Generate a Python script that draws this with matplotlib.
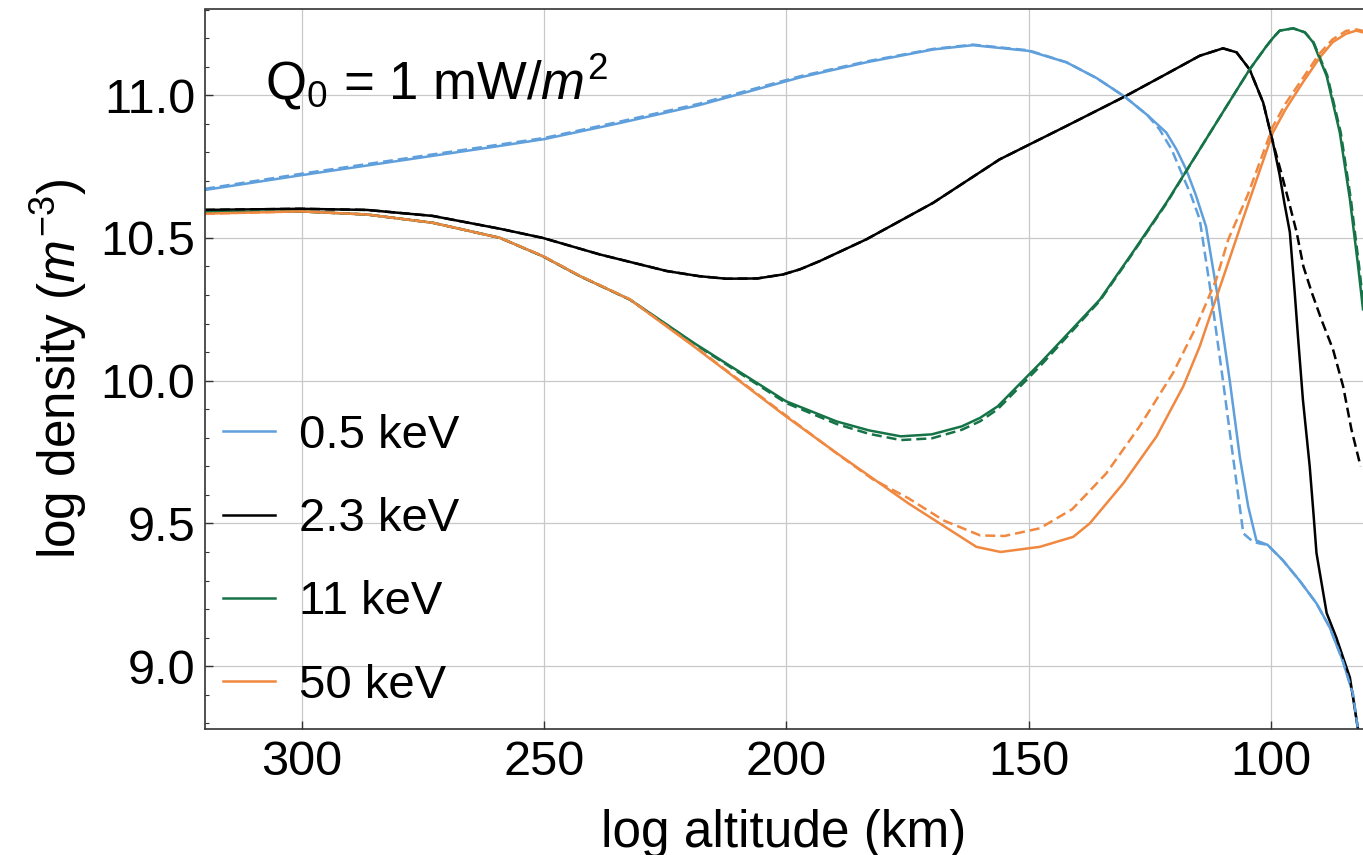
import matplotlib
matplotlib.use("Agg")
import matplotlib.pyplot as plt
from matplotlib.ticker import MultipleLocator

plt.rcParams['font.family'] = ['Liberation Sans', 'DejaVu Sans']
plt.rcParams['mathtext.fontset'] = 'custom'
plt.rcParams['mathtext.rm'] = 'Liberation Sans'
plt.rcParams['mathtext.it'] = 'Liberation Sans:italic'
plt.rcParams['mathtext.bf'] = 'Liberation Sans:bold'

# altitude (km) / log density values
blue_alt = [320, 300, 280, 260, 250, 235, 218, 197.2, 183.5, 169.7, 161.5, 150, 142.2, 136, 130.2,
            125.5, 121.6, 119.5, 117.5, 115.5, 113.4, 111.0, 108.5, 106.4, 104.7, 103.0, 100.7,
            97.6, 94.1, 90.6, 87.9, 85.2, 83.1, 82.1, 81]
blue_den = [10.668, 10.72, 10.77, 10.82, 10.846, 10.90, 10.965, 11.062, 11.115, 11.16, 11.175,
            11.155, 11.115, 11.06, 10.995, 10.93, 10.869, 10.81, 10.74, 10.65, 10.54, 10.296, 10.0,
            9.73, 9.56, 9.44, 9.425, 9.372, 9.30, 9.22, 9.137, 9.02, 8.905, 8.786, 8.72]
blue_alt_d = [320, 300, 280, 260, 250, 235, 218, 197.2, 183.5, 169.7, 161.5, 150, 142.2, 136,
              130.2, 125.5, 123, 120.5, 118.2, 116.5, 114.7, 112.3, 109.9, 107.8, 105.7, 103.7,
              102.4, 100.7, 97.6, 94.1, 90.6, 87.9, 85.2, 83.1, 82.1, 81]
blue_den_d = [10.672, 10.725, 10.775, 10.825, 10.85, 10.905, 10.97, 11.066, 11.118, 11.162,
              11.177, 11.157, 11.115, 11.06, 10.995, 10.93, 10.88, 10.81, 10.717, 10.65, 10.565,
              10.296, 10.0, 9.73, 9.465, 9.436, 9.43, 9.425, 9.372, 9.30, 9.22, 9.137, 9.02,
              8.905, 8.786, 8.72]

black_alt = [320, 300.4, 286.6, 273, 259.1, 250.3, 238.5, 224.7, 218, 212.4, 206, 200.7, 197.2,
             193.1, 183.5, 169.7, 156, 142.2, 130.2, 121.6, 114.7, 109.9, 107.1, 104.4, 101.6,
             99.6, 98.2, 97.2, 96.1, 95.1, 94.4, 93.4, 92.0, 91.2, 90.6, 88.5, 86.5, 83.7, 82.1, 81]
black_den = [10.598, 10.602, 10.598, 10.577, 10.532, 10.50, 10.442, 10.384, 10.366, 10.357,
             10.358, 10.372, 10.39, 10.419, 10.495, 10.623, 10.775, 10.892, 10.995, 11.074, 11.138,
             11.164, 11.15, 11.09, 10.974, 10.835, 10.72, 10.62, 10.52, 10.31, 10.15, 9.933, 9.70,
             9.53, 9.396, 9.186, 9.10, 8.96, 8.786, 8.70]
black_alt_d = [320, 300.4, 286.6, 273, 259.1, 250.3, 238.5, 224.7, 218, 212.4, 206, 200.7, 197.2,
               193.1, 183.5, 169.7, 156, 142.2, 130.2, 121.6, 114.7, 109.9, 107.1, 104.4, 101.6,
               99.6, 97.9, 96.2, 94.7, 93.3, 91.6, 89.5, 87.2, 85.1, 83.4, 81.5]
black_den_d = [10.598, 10.602, 10.598, 10.577, 10.532, 10.50, 10.442, 10.384, 10.366, 10.357,
               10.358, 10.372, 10.39, 10.419, 10.495, 10.623, 10.775, 10.892, 10.995, 11.074,
               11.138, 11.164, 11.15, 11.09, 10.974, 10.835, 10.73, 10.62, 10.52, 10.40, 10.31,
               10.21, 10.11, 9.98, 9.83, 9.70]

green_alt = [320, 300.4, 286.6, 273, 259.1, 250.3, 242.6, 232.3, 219.1, 200.1, 189.6, 183, 176.4,
             170, 163.8, 160, 156.4, 147.7, 135.3, 128.5, 121.6, 114.7, 107.8, 104.4, 101, 99.6,
             98.2, 95.4, 93, 91.3, 88.5, 85.8, 83.7, 82.0, 81]
green_den = [10.59, 10.593, 10.582, 10.553, 10.50, 10.436, 10.366, 10.284, 10.132, 9.928, 9.857,
             9.826, 9.805, 9.812, 9.84, 9.87, 9.91, 10.06, 10.284, 10.45, 10.623, 10.81, 10.998,
             11.09, 11.17, 11.20, 11.226, 11.234, 11.22, 11.185, 11.067, 10.87, 10.635, 10.40,
             10.25]
green_alt_d = [320, 300.4, 286.6, 273, 259.1, 250.3, 242.6, 232.3, 219.1, 200.1, 189.6, 183,
               176.4, 170, 163.8, 160, 156.4, 147.7, 135.3, 128.5, 121.6, 114.7, 107.8, 104.4,
               101, 99.6, 98.2, 95.4, 93, 91.2, 88.4, 85.6, 83.5, 81.8, 80.8]
green_den_d = [10.59, 10.593, 10.582, 10.553, 10.50, 10.436, 10.366, 10.284, 10.13, 9.922, 9.848,
               9.814, 9.792, 9.798, 9.828, 9.858, 9.90, 10.05, 10.28, 10.447, 10.62, 10.81,
               10.998, 11.09, 11.17, 11.20, 11.226, 11.234, 11.22, 11.185, 11.07, 10.87, 10.635,
               10.40, 10.25]

orange_alt = [320, 300.4, 286.6, 273, 259.1, 250.3, 242.6, 232.3, 219.1, 200.1, 189.6, 174.8, 160.8,
              155.8, 147.7, 140.8, 137.4, 130.5, 123.6, 118.1, 114.7, 111.9, 110, 105.8, 99.6, 97,
              93.4, 90.0, 87.3, 84.5, 82.4, 81]
orange_den = [10.585, 10.593, 10.582, 10.553, 10.50, 10.436, 10.366, 10.284, 10.12, 9.875, 9.746,
              9.57, 9.418, 9.40, 9.418, 9.453, 9.50, 9.64, 9.805, 9.98, 10.12, 10.26, 10.354,
              10.565, 10.869, 10.95, 11.045, 11.13, 11.185, 11.215, 11.226, 11.22]
orange_alt_d = [320, 300.4, 286.6, 273, 259.1, 250.3, 242.6, 232.3, 219.1, 200.1, 189.6, 182.2,
                174.8, 167.5, 160, 155, 147.7, 141, 134, 127.1, 120.2, 115.4, 111.3, 108.8, 104.8,
                99.6, 97, 93.4, 90, 87.3, 84.5, 82.3, 81]
orange_den_d = [10.585, 10.593, 10.582, 10.553, 10.50, 10.437, 10.367, 10.285, 10.122, 9.878,
                9.745, 9.655, 9.588, 9.51, 9.458, 9.456, 9.483, 9.55, 9.675, 9.84, 10.027, 10.19,
                10.354, 10.495, 10.65, 10.89, 10.97, 11.06, 11.145, 11.195, 11.225, 11.23, 11.225]

labels = ['0.5 keV', '2.3 keV', '11 keV', '50 keV']
colors = ['#5e9fdc', '#000000', '#167347', '#f0883f']

solid = [(blue_alt, blue_den), (black_alt, black_den), (green_alt, green_den),
         (orange_alt, orange_den)]
dashed = [(blue_alt_d, blue_den_d), (black_alt_d, black_den_d), (green_alt_d, green_den_d),
          (orange_alt_d, orange_den_d)]

fig = plt.figure(figsize=(13.63, 8.55), dpi=100)
W, H = 1363.0, 855.0
ax = fig.add_axes([205 / W, 1 - 729 / H, (1363 - 205) / W, (729 - 9.5) / H])

for (x, y), c, lab in zip(solid, colors, labels):
    ax.plot(x, y, color=c, lw=1.8, label=lab)
for (x, y), c in zip(dashed, colors):
    ax.plot(x, y, color=c, lw=1.8, ls=(0, (4, 2)))

ax.set_xlim(320, 81)
ax.set_ylim(8.78, 11.30)
ax.set_xticks([300, 250, 200, 150, 100])
ax.set_yticks([9.0, 9.5, 10.0, 10.5, 11.0])
ax.set_yticklabels(['9.0', '9.5', '10.0', '10.5', '11.0'])
ax.yaxis.set_minor_locator(MultipleLocator(0.1))
ax.tick_params(axis='both', which='major', direction='in', length=6, width=1,
               labelsize=35, top=False, right=False, color='#333333')
ax.tick_params(axis='y', which='minor', direction='in', length=3, width=0.8, right=False,
               color='#333333')
ax.tick_params(axis='x', pad=8)
ax.tick_params(axis='y', pad=7)
ax.grid(True, which='major', color='#c8c8c8', lw=0.9)
ax.set_axisbelow(True)
ax.spines['right'].set_visible(False)
for s in ['left', 'bottom', 'top']:
    ax.spines[s].set_color('#333333')
    ax.spines[s].set_linewidth(1.2)

ax.set_xlabel('log altitude (km)', fontsize=37, labelpad=17)
ax.set_ylabel(r'log density ($m^{-3}$)', fontsize=37, labelpad=8)

ax.text(60 / 1158, (729 - 100) / 719.5, r'Q$_0$ = 1 mW/$m^2$', transform=ax.transAxes,
        fontsize=38, va='baseline', ha='left')

ax.legend(loc='upper left', bbox_to_anchor=(18 / 1158, (729 - 414) / 719.5), frameon=False,
          fontsize=34, handlelength=1.1, handletextpad=0.5, labelspacing=0.83,
          borderpad=0, borderaxespad=0)

fig.savefig('out.png', dpi=100)
